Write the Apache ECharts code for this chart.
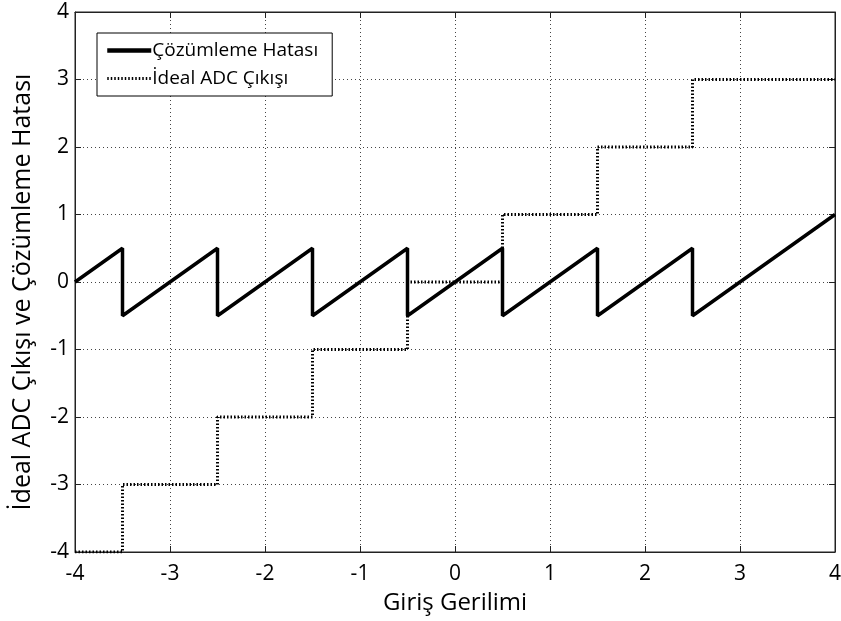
<!DOCTYPE html>
<html>
<head>
<meta charset="utf-8">
<script src="https://cdn.jsdelivr.net/npm/echarts@6/dist/echarts.min.js"></script>
<style>
  html, body { margin: 0; padding: 0; background: #fff; }
  #chart { width: 841px; height: 621px; }
</style>
</head>
<body>
<div id="chart"></div>
<script>
// x ekseni ve y ekseni sinirlari
const xTicks = [-4, -3, -2, -1, 0, 1, 2, 3, 4]
const yTicks = [-4, -3, -2, -1, 0, 1, 2, 3, 4]

// ideal ADC cikisi: basamak kenarlari ve seviyeleri
const idealX = [-4, -3.5, -3.5, -2.5, -2.5, -1.5, -1.5, -0.5, -0.5, 0.5, 0.5, 1.5, 1.5, 2.5, 2.5, 4]
const idealY = [-4, -4, -3, -3, -2, -2, -1, -1, 0, 0, 1, 1, 2, 2, 3, 3]

// cozumleme hatasi: testere disi
const errX = [-4, -3.5, -3.5, -2.5, -2.5, -1.5, -1.5, -0.5, -0.5, 0.5, 0.5, 1.5, 1.5, 2.5, 2.5, 4]
const errY = [0, 0.5, -0.5, 0.5, -0.5, 0.5, -0.5, 0.5, -0.5, 0.5, -0.5, 0.5, -0.5, 0.5, -0.5, 1]

const seriesNames = ['Çözümleme Hatası', 'İdeal ADC Çıkışı']

const FONT = 'Open Sans'

const chart = echarts.init(document.getElementById('chart'))

const gridLine = { show: true, lineStyle: { color: '#444', type: [1, 3], width: 1 } }
const boxLine = { show: true, onZero: false, lineStyle: { color: '#222', width: 1 } }
const tick = { show: true, inside: true, length: 6, lineStyle: { color: '#222' } }

const errLine = { color: '#000', width: 3.5 }
const idealLine = { color: '#000', width: 3, type: [1.5, 2] }

const option = {
  animation: false,
  backgroundColor: '#fff',
  grid: {
    left: 75, right: 6, top: 12, bottom: 69,
    outerBoundsMode: 'none', containLabel: false,
    show: true, borderColor: '#222', borderWidth: 1, backgroundColor: '#fff'
  },
  legend: {
    data: [
      { name: seriesNames[0], lineStyle: { width: 4.5 } },
      { name: seriesNames[1], lineStyle: { width: 3, type: [1.5, 2] } }
    ],
    orient: 'vertical',
    left: 97,
    top: 33,
    padding: [8, 14, 8, 8],
    itemGap: 9,
    itemWidth: 44,
    itemHeight: 12,
    backgroundColor: '#fff',
    borderColor: '#000',
    borderWidth: 1,
    borderRadius: 0,
    itemStyle: { opacity: 0 },
    textStyle: { fontFamily: FONT, fontSize: 19, color: '#000', padding: [0, 0, 0, -4] }
  },
  xAxis: [{
    type: 'value',
    min: xTicks[0],
    max: xTicks[xTicks.length - 1],
    interval: 1,
    name: 'Giriş Gerilimi',
    nameLocation: 'middle',
    nameGap: 39,
    nameTextStyle: { fontFamily: FONT, fontSize: 24, color: '#000' },
    axisLine: boxLine,
    axisTick: tick,
    axisLabel: { fontFamily: FONT, fontSize: 21, color: '#000', margin: 12 },
    splitLine: gridLine
  }, {
    type: 'value',
    position: 'top',
    min: xTicks[0],
    max: xTicks[xTicks.length - 1],
    interval: 1,
    axisLine: boxLine,
    axisTick: tick,
    axisLabel: { show: false },
    splitLine: { show: false }
  }],
  yAxis: [{
    type: 'value',
    min: yTicks[0],
    max: yTicks[yTicks.length - 1],
    interval: 1,
    name: 'İdeal ADC Çıkışı ve Çözümleme Hatası',
    nameLocation: 'middle',
    nameGap: 40,
    nameTextStyle: { fontFamily: FONT, fontSize: 25, color: '#000', padding: [0, 20, 0, 0] },
    axisLine: boxLine,
    axisTick: tick,
    axisLabel: { fontFamily: FONT, fontSize: 21, color: '#000', margin: 6 },
    splitLine: gridLine
  }, {
    type: 'value',
    position: 'right',
    min: yTicks[0],
    max: yTicks[yTicks.length - 1],
    interval: 1,
    axisLine: boxLine,
    axisTick: tick,
    axisLabel: { show: false },
    splitLine: { show: false }
  }],
  series: [{
    name: seriesNames[0],
    type: 'line',
    showSymbol: false,
    symbol: 'none',
    data: errX.map((x, i) => [x, errY[i]]),
    lineStyle: errLine,
    itemStyle: { color: '#000' },
    z: 3
  }, {
    name: seriesNames[1],
    type: 'line',
    showSymbol: false,
    symbol: 'none',
    data: idealX.map((x, i) => [x, idealY[i]]),
    lineStyle: idealLine,
    itemStyle: { color: '#000' },
    z: 2
  }]
}

chart.setOption(option)
</script>
</body>
</html>
